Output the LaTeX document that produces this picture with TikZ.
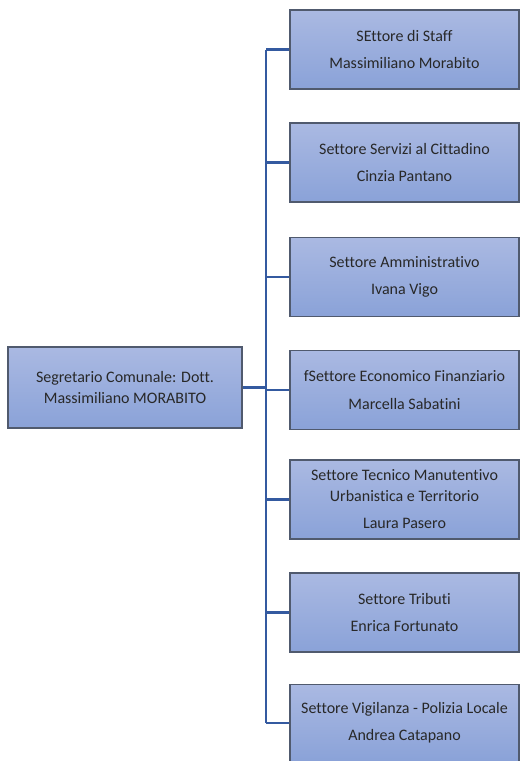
\documentclass[tikz,border=0pt]{standalone}
\usepackage{fontspec}
\setmainfont[Ligatures=NoCommon]{Carlito}
\usetikzlibrary{calc}
\definecolor{boxtop}{RGB}{170,185,226}
\definecolor{boxbottom}{RGB}{138,162,216}
\definecolor{boxborder}{RGB}{80,90,110}
\definecolor{linkblue}{RGB}{52,90,160}
\definecolor{textgray}{RGB}{40,40,40}
\tikzstyle{unitbox}=[draw=boxborder,line width=0.8pt,top color=boxtop,bottom color=boxbottom,
  minimum width=171.75pt,minimum height=59.25pt,align=center,text=textgray,
  font=\fontsize{12}{15.5}\selectfont,inner sep=2pt]
\tikzstyle{headbox}=[unitbox,minimum width=175.5pt,minimum height=60.75pt]
\tikzstyle{link}=[linkblue,line width=1.6pt]
\newcommand{\unitname}[2]{#1\\[5pt]#2}

\begin{document}
\begin{tikzpicture}[x=0.75pt,y=-0.75pt]
\useasboundingbox (0,0) rectangle (520,761);
% segretario
\node[headbox] (boss) at (125,387.5) {Segretario Comunale: Dott.\\Massimiliano MORABITO};
% settori
\node[unitbox] (s1) at (404.5,49.5) {\unitname{SEttore di Staff}{Massimiliano Morabito}};
\node[unitbox] (s2) at (404.5,162.5) {\unitname{Settore Servizi al Cittadino}{Cinzia Pantano}};
\node[unitbox] (s3) at (404.5,277) {\unitname{Settore Amministrativo}{Ivana Vigo}};
\node[unitbox] (s4) at (404.5,390) {\unitname{fSettore Economico Finanziario}{Marcella Sabatini}};
\node[unitbox] (s5) at (404.5,499.5) {\unitname{Settore Tecnico Manutentivo\\Urbanistica e Territorio}{Laura Pasero}};
\node[unitbox] (s6) at (404.5,612.5) {\unitname{Settore Tributi}{Enrica Fortunato}};
\node[unitbox,minimum height=57.75pt] (s7) at (404.5,723) {\unitname{Settore Vigilanza - Polizia Locale}{Andrea Catapano}};
% connectors
\coordinate (trunk) at (266,0);
\draw[link] (s1.west -| trunk) -- (s7.west -| trunk);
\draw[link] (boss.east) -- (boss.east -| trunk);
\foreach \s in {s1,s2,s3,s4,s5,s6,s7}
  \draw[link] (\s.west -| trunk) -- (\s.west);
\end{tikzpicture}
\end{document}
